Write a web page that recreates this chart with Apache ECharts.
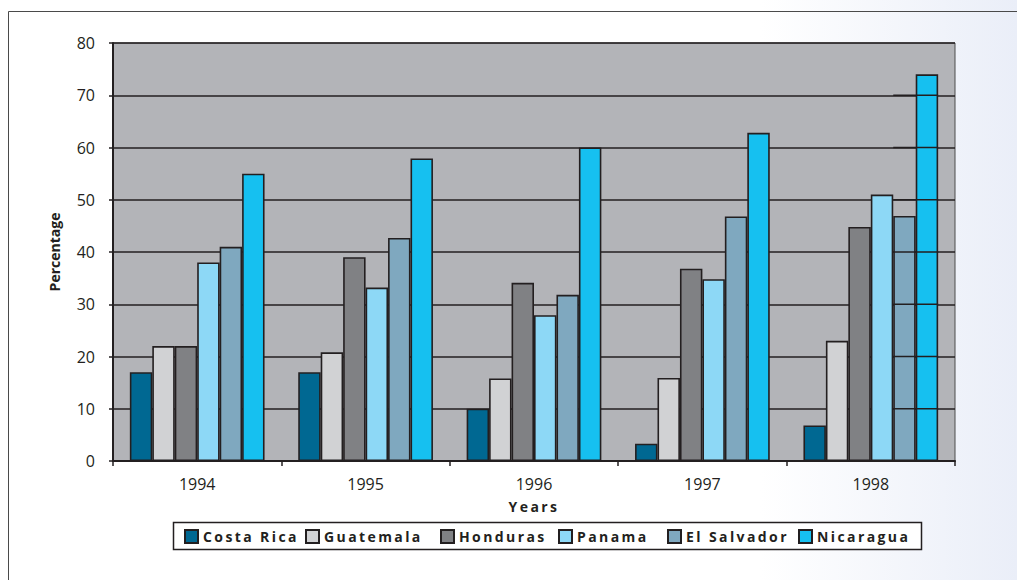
<!DOCTYPE html>
<html>
<head>
<meta charset="utf-8">
<script src="https://cdn.jsdelivr.net/npm/echarts@6/dist/echarts.min.js"></script>
<style>
  html, body { margin: 0; padding: 0; background: #ffffff; }
  #chart { width: 1017px; height: 580px; }
  /* tracked-out bold captions (legend entries, x-axis title) */
  #chart text[style*="bold"] { letter-spacing: 2.4px; }
</style>
</head>
<body>
<div id="chart"></div>
<script>
const categories = ['1994', '1995', '1996', '1997', '1998'];
const seriesNames = ['Costa Rica', 'Guatemala', 'Honduras', 'Panama', 'El Salvador', 'Nicaragua'];
const costaRica  = [17, 17, 10, 3.3, 6.8];
const guatemala  = [22, 20.8, 15.8, 15.9, 23];
const honduras   = [22, 39, 34.1, 36.8, 44.8];
const panama     = [38, 33.2, 27.9, 34.8, 51];
const elSalvador = [41, 42.7, 31.8, 46.8, 46.9];
const nicaragua  = [55, 57.9, 60, 62.8, 74];
const yTicks = [0, 10, 20, 30, 40, 50, 60, 70, 80];

const seriesValues = [costaRica, guatemala, honduras, panama, elSalvador, nicaragua];
const colors = ['#006892', '#d1d2d4', '#808184', '#8dd8f6', '#7fa8bf', '#16c0f0'];
const ink = '#231f20';
const tickFont = 'Open Sans';

const chart = echarts.init(document.getElementById('chart'), null, { renderer: 'svg' });

const barSeries = seriesNames.map((name, i) => ({
  name,
  type: 'bar',
  data: seriesValues[i],
  barGap: '0%',
  barCategoryGap: '20%',
  itemStyle: { color: colors[i], borderColor: ink, borderWidth: 1.6 },
  emphasis: { disabled: true },
  z: 2
}));

// grid rules that run across the last two bars of 1998
const overlaySeries = {
  type: 'custom',
  data: [[4]],
  silent: true,
  z: 5,
  renderItem(params, api) {
    const cat = api.value(0);
    const band = api.size([1, 0])[0];
    const center = api.coord([cat, 0])[0];
    const bw = band * 0.8 / seriesNames.length;
    const x0 = center - band * 0.4 + 4 * bw;
    const x1 = x0 + 2 * bw;
    const children = yTicks.filter(v => v > 0 && v < 80).map(v => {
      const y = api.coord([cat, v])[1];
      return { type: 'line', shape: { x1: x0, y1: y, x2: x1, y2: y },
               style: { stroke: ink, lineWidth: 1.5 } };
    });
    return { type: 'group', children };
  }
};

const legendLeft = [184, 305, 440, 558, 667, 798];
const legends = seriesNames.map((name, i) => ({
  data: [name],
  left: legendLeft[i],
  top: 529,
  icon: 'rect',
  itemWidth: 13,
  itemHeight: 13,
  padding: 0,
  selectedMode: false,
  textStyle: { color: ink, fontFamily: tickFont, fontWeight: 'bold', fontSize: 14 }
}));

chart.setOption({
  animation: false,
  backgroundColor: '#ffffff',
  graphic: [
    { type: 'rect', z: -10, silent: true,
      shape: { x: 760, y: 0, width: 257, height: 580 },
      style: { fill: new echarts.graphic.LinearGradient(0, 0, 1, 0, [
        { offset: 0, color: 'rgba(255,255,255,1)' },
        { offset: 1, color: '#eaeef8' }
      ]) } },
    { type: 'polyline', z: 10, silent: true,
      shape: { points: [[8.5, 580], [8.5, 11.5], [1017, 11.5]] },
      style: { stroke: '#4a4a4a', lineWidth: 1, fill: null } },
    { type: 'rect', z: 1, silent: true,
      shape: { x: 173.5, y: 522.5, width: 748, height: 27 },
      style: { fill: '#ffffff', stroke: ink, lineWidth: 1.5 } }
  ],
  grid: {
    left: 113, right: 62, top: 43, bottom: 119,
    show: true, backgroundColor: '#b3b4b8', borderColor: '#4d4d4d', borderWidth: 1
  },
  legend: legends,
  xAxis: {
    type: 'category',
    data: categories,
    name: 'Years',
    nameLocation: 'middle',
    nameGap: 38,
    nameTextStyle: { color: ink, fontFamily: tickFont, fontWeight: 'bold', fontSize: 14 },
    axisLine: { lineStyle: { color: ink, width: 2 } },
    axisTick: { show: true, alignWithLabel: false, length: 5, lineStyle: { color: ink, width: 1.5 } },
    axisLabel: { color: ink, fontFamily: tickFont, fontSize: 16, margin: 15 }
  },
  yAxis: {
    type: 'value',
    min: 0, max: 80, interval: 10,
    name: 'Percentage',
    nameLocation: 'middle',
    nameGap: 52,
    nameTextStyle: { color: ink, fontFamily: tickFont, fontWeight: 700, fontSize: 14 },
    axisLine: { show: true, lineStyle: { color: ink, width: 2 } },
    axisTick: { show: true, length: 4, lineStyle: { color: ink, width: 1.5 } },
    axisLabel: { color: ink, fontFamily: tickFont, fontSize: 16, margin: 18 },
    splitLine: { show: true, lineStyle: { color: ink, width: 1.5 } }
  },
  series: [...barSeries, overlaySeries]
});
</script>
</body>
</html>
